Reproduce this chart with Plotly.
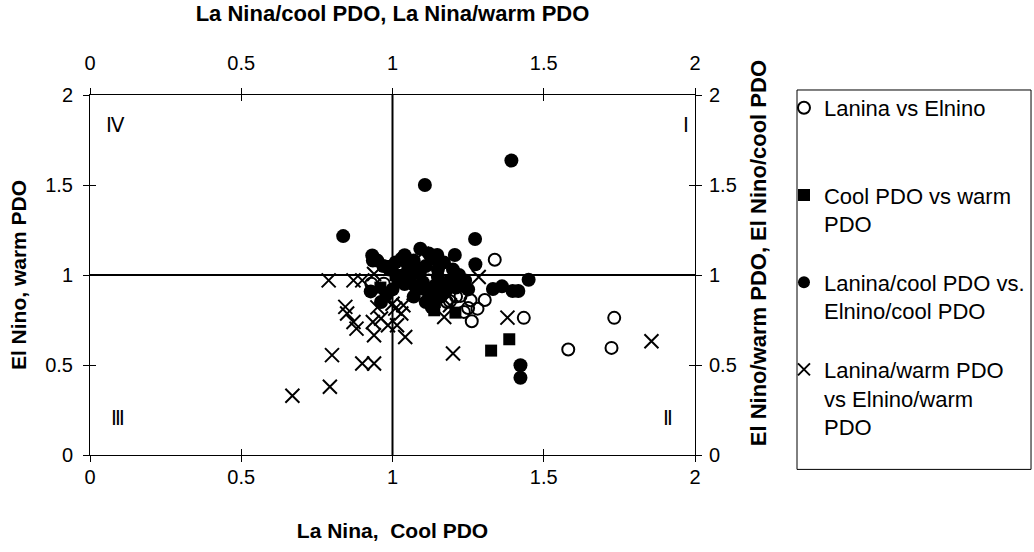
import plotly.graph_objects as go

# ---- data ----
open_x = [1.338, 1.434, 1.733, 1.724, 1.581, 1.262, 1.281, 1.305, 1.258, 1.225, 1.236, 1.19, 1.161,
          0.971, 0.93, 1.02, 1.08, 1.12, 1.17, 1.21, 1.25, 1.18]
open_y = [1.085, 0.762, 0.762, 0.595, 0.586, 0.743, 0.813, 0.861, 0.86, 0.884, 0.795, 0.854, 0.915,
          0.952, 0.952, 0.97, 0.93, 0.97, 0.90, 0.88, 0.817, 0.85]

sq_x = [1.386, 1.326, 1.208, 1.138, 0.975, 1.01, 1.05, 1.10, 1.14, 1.21, 1.00, 1.17, 1.08, 1.24, 0.96]
sq_y = [0.643, 0.58, 0.791, 0.804, 1.05, 1.0, 0.97, 0.92, 0.85, 0.95, 1.03, 0.95, 1.04, 0.95, 0.93]

fc_x = [1.393, 1.107, 0.837, 1.273, 1.274, 1.45, 1.332, 1.362, 1.397, 1.416, 1.423, 1.423,
        0.933, 1.092, 1.148, 1.206, 0.928, 0.962, 1.198, 1.24, 0.95, 0.97, 0.99, 1.01, 1.03,
        1.05, 1.07, 1.11, 1.13, 1.15, 1.17, 1.22, 1.02, 1.04, 1.06, 1.08, 1.10, 1.12, 1.14,
        1.16, 1.18, 1.00, 0.98, 1.07, 1.11, 1.13, 1.19, 1.23, 1.05, 1.09, 1.15, 1.20, 1.04, 1.12,
        0.935, 1.21, 1.25]
fc_y = [1.636, 1.50, 1.216, 1.20, 1.06, 0.974, 0.922, 0.937, 0.911, 0.911, 0.499, 0.429,
        1.109, 1.146, 1.111, 1.111, 0.909, 0.85, 0.94, 0.97, 1.08, 1.05, 1.03, 1.07, 1.09,
        1.06, 1.08, 1.05, 1.09, 1.03, 1.07, 1.0, 0.98, 0.95, 0.99, 0.93, 0.96, 0.90, 0.94,
        0.88, 0.92, 0.92, 0.89, 0.88, 0.85, 0.82, 0.97, 0.94, 1.02, 1.01, 0.99, 1.03, 1.11, 1.12,
        1.08, 0.93, 0.92]

xw_x = [0.669, 0.793, 0.80, 0.90, 0.939, 1.20, 1.856, 1.38, 1.285, 0.789, 0.871, 0.90, 0.939,
        0.844, 0.85, 0.871, 0.881, 0.939, 0.935, 0.962, 0.985, 1.015, 1.042, 1.009, 1.036,
        1.029, 1.171, 1.19, 1.097, 0.97, 1.00, 0.95, 1.07, 1.13]
xw_y = [0.329, 0.379, 0.555, 0.508, 0.508, 0.564, 0.632, 0.763, 0.989, 0.97, 0.97, 0.97, 1.006,
        0.823, 0.786, 0.739, 0.702, 0.665, 0.739, 0.758, 0.721, 0.721, 0.656, 0.813, 0.832,
        0.786, 0.767, 0.832, 1.118, 0.88, 0.84, 0.82, 0.90, 0.87]

tick_vals = [0, 0.5, 1, 1.5, 2]
tick_text = ["0", "0.5", "1", "1.5", "2"]
series_names = ["Lanina vs Elnino<br> ", "Cool PDO vs warm<br>PDO",
                "Lanina/cool PDO vs.<br>Elnino/cool PDO",
                "Lanina/warm PDO<br>vs Elnino/warm<br>PDO"]
quadrants = [("Ⅳ", 0.083, 1.833), ("Ⅰ", 1.97, 1.833), ("Ⅲ", 0.093, 0.206), ("Ⅱ", 1.911, 0.206)]

FONT = "Liberation Sans, Arial, sans-serif"
fig = go.Figure()

fig.add_trace(go.Scatter(x=open_x, y=open_y, mode="markers", name=series_names[0], legendgroup="a",
                         marker=dict(symbol="circle-open", size=12, color="black", line=dict(width=2, color="black"))))
fig.add_trace(go.Scatter(x=sq_x, y=sq_y, mode="markers", name=series_names[1], legendgroup="b",
                         marker=dict(symbol="square", size=12, color="black")))
fig.add_trace(go.Scatter(x=fc_x, y=fc_y, mode="markers", name=series_names[2], legendgroup="c",
                         marker=dict(symbol="circle", size=14, color="black")))
fig.add_trace(go.Scatter(x=xw_x, y=xw_y, mode="markers", name=series_names[3], legendgroup="d",
                         marker=dict(symbol="x-thin-open", size=14, color="black", line=dict(width=2, color="black"))))

# dummy traces so secondary axes exist
for xa, ya in [("x2", "y2"), ("x3", "y3"), ("x4", "y4")]:
    fig.add_trace(go.Scatter(x=[None], y=[None], xaxis=xa, yaxis=ya, showlegend=False, hoverinfo="skip"))

common = dict(range=[0, 2], tickvals=tick_vals, ticktext=tick_text, showgrid=False, zeroline=False,
              linecolor="black", linewidth=1, tickcolor="black", ticklen=6, tickwidth=1,
              tickfont=dict(family=FONT, size=20, color="black"))
inner = dict(range=[0, 2], tickvals=tick_vals, showgrid=False, zeroline=False, showline=False,
             showticklabels=False, ticks="inside", ticklen=6, tickcolor="black", tickwidth=1)
tf22 = dict(family=FONT, size=22, color="black")
tf21 = dict(family=FONT, size=21, color="black")

fig.update_layout(
    width=1034, height=552,
    margin=dict(l=90, r=339, t=95, b=97, autoexpand=False),
    paper_bgcolor="white", plot_bgcolor="white",
    font=dict(family=FONT, color="black"),
    xaxis=dict(**common, side="bottom", ticks="outside", showline=True, ticklabelstandoff=-2,
               title=dict(text="<b>La Nina,  Cool PDO</b>", font=tf21, standoff=36)),
    xaxis2=dict(**common, side="top", overlaying="x", anchor="y", ticks="outside", showline=True,
                ticklabelstandoff=10,
                title=dict(text="<b>La Nina/cool PDO, La Nina/warm PDO</b>", font=tf22, standoff=24)),
    yaxis=dict(**common, side="left", ticks="outside", showline=True, ticklabelstandoff=6,
               title=dict(text="<b>El Nino, warm PDO</b>", font=tf21, standoff=12)),
    yaxis2=dict(**common, side="right", overlaying="y", anchor="x", ticks="outside", showline=True,
                ticklabelstandoff=3),
    xaxis3=dict(**inner, side="bottom", overlaying="x", anchor="y"),
    xaxis4=dict(**inner, side="top", overlaying="x", anchor="y"),
    yaxis3=dict(**inner, side="left", overlaying="y", anchor="x"),
    yaxis4=dict(**inner, side="right", overlaying="y", anchor="x"),
    legend=dict(xref="container", yref="container", x=0.7582, y=0.8424, xanchor="left", yanchor="top",
                valign="top",
                font=dict(family=FONT, size=22, color="black"), bgcolor="rgba(0,0,0,0)",
                borderwidth=0, tracegroupgap=27, itemsizing="constant", traceorder="grouped",
                maxheight=520),
    showlegend=True,
)

# right-hand axis title (placed slightly above centre as in the original)
fig.add_annotation(text="<b>El Nino/warm PDO, El Nino/cool PDO</b>", xref="paper", yref="paper",
                   x=1.1295, y=0.56, textangle=-90, showarrow=False, font=tf22)

# centre cross lines
fig.add_shape(type="line", xref="x", yref="paper", x0=1, x1=1, y0=0, y1=1, line=dict(color="black", width=2))
fig.add_shape(type="line", xref="paper", yref="y", x0=0, x1=1, y0=1, y1=1, line=dict(color="black", width=2))
# legend frame
fig.add_shape(type="rect", xref="paper", yref="paper", x0=1.1686, x1=1.5554, y0=-0.04, y1=1.0139,
              line=dict(color="black", width=1))

for txt, qx, qy in quadrants:
    fig.add_annotation(x=qx, y=qy, xref="x", yref="y", text=txt, showarrow=False,
                       font=dict(family=FONT, size=20, color="black"))

fig.write_html("out.html")
